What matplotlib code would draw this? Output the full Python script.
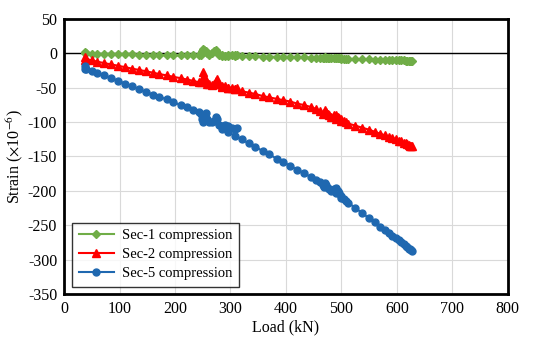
import matplotlib
matplotlib.use("Agg")
import matplotlib.pyplot as plt

# ---- data ----
load = [37, 37, 40, 50, 60, 72, 85, 98, 110, 122, 135, 148, 160, 172, 185, 197, 210, 222, 233, 243,
        246, 248, 250, 252, 255, 258, 262, 266, 270, 273, 276, 280, 285, 290, 296, 302, 308, 312,
        285, 295, 308, 320, 333, 345, 358, 370, 383, 395, 408, 420, 432, 445, 455, 462,
        466, 468, 470, 472, 475, 478, 482, 486, 490, 493, 496, 500, 504, 508,
        490, 500, 512, 525, 537, 550, 560, 570, 578, 585, 592, 598, 603, 608, 612, 616, 619, 622, 624, 626, 627]

sec1 = [0, 2, 0, -0.5, -0.5, -1, -1, -1, -1.5, -1.5, -2, -2, -2, -2.5, -2.5, -3, -3, -3, -3, -3,
        -2, 3, 7, 5, 3, 1, -2, 0, 3, 5, 2, -2, -4, -4, -3, -3, -3, -3,
        -3, -3.5, -3.5, -4, -4, -4, -4.5, -4.5, -5, -5, -5, -5.5, -5.5, -6, -6, -6,
        -6, -6, -5, -6, -6.5, -7, -7, -6.5, -6.5, -7, -7, -7, -7.5, -7.5,
        -7, -7.5, -8, -8, -8.5, -8.5, -9, -9, -9.5, -9.5, -9.5, -10, -10, -10, -10, -10.5, -10.5, -10.5, -10.5, -10.5, -10.5]

sec2 = [-10, -5, -8, -10, -12, -14, -16, -18, -20, -22, -24, -26, -28, -30, -32, -34, -36, -38, -40, -42,
        -42, -38, -27, -33, -40, -45, -44, -46, -45, -40, -37, -44, -48, -48, -50, -50, -52, -51,
        -49, -50, -52, -55, -57, -59, -62, -64, -66, -68, -70, -73, -75, -78, -81, -84,
        -88, -86, -82, -85, -88, -90, -92, -90, -89, -92, -94, -96, -98, -100,
        -96, -99, -102, -105, -108, -111, -114, -117, -119, -121, -123, -125, -127, -128, -130, -131, -132, -133, -134, -135, -135]

sec5 = [-22, -18, -22, -25, -28, -32, -36, -40, -44, -48, -52, -56, -60, -63, -67, -71, -75, -78, -82, -85,
        -88, -95, -100, -92, -86, -95, -100, -100, -98, -92, -96, -104, -106, -104, -105, -108, -110, -108,
        -110, -114, -120, -125, -131, -136, -142, -147, -153, -158, -164, -169, -174, -180, -184, -187,
        -192, -195, -188, -192, -196, -198, -200, -198, -196, -200, -203, -208, -212, -215,
        -203, -210, -217, -225, -232, -240, -246, -252, -257, -261, -265, -269, -272, -275, -278, -280, -282, -284, -285, -286, -287]

labels = ["Sec-1 compression", "Sec-2 compression", "Sec-5 compression"]
xticks = list(range(0, 801, 100))
yticks = list(range(-350, 51, 50))

plt.rcParams['font.family'] = ['Liberation Serif', 'DejaVu Serif']
plt.rcParams['mathtext.fontset'] = 'stix'
plt.rcParams['axes.unicode_minus'] = False

fig = plt.figure(figsize=(5.34, 3.47), dpi=100)
ax = fig.add_axes([0.12, 0.153, 0.831, 0.792])

ax.plot(load, sec1, color='#70AD47', marker='D', markersize=4, linewidth=1.5, label=labels[0], zorder=3)
ax.plot(load, sec2, color='#FF0000', marker='^', markersize=5.5, linewidth=1.5, label=labels[1], zorder=3)
ax.plot(load, sec5, color='#1F68B0', marker='o', markersize=5, linewidth=1.5, label=labels[2], zorder=3)

ax.axhline(0, color='black', linewidth=1, zorder=2)

ax.set_xlim(0, 800)
ax.set_ylim(-350, 50)
ax.set_xticks(xticks)
ax.set_yticks(yticks)
ax.grid(True, color='#D9D9D9', linewidth=0.8)
ax.set_axisbelow(True)
ax.tick_params(length=0, labelsize=11.5, pad=5)
for s in ax.spines.values():
    s.set_linewidth(2)
    s.set_color('black')

ax.set_xlabel('Load (kN)', fontsize=11.5, labelpad=2)
ax.set_ylabel(r'Strain ($\times$10$^{-6}$)', fontsize=11.5, labelpad=2)

leg = ax.legend(loc='lower left', bbox_to_anchor=(0.018, 0.025), borderaxespad=0,
                fontsize=10.5, frameon=True, fancybox=False, handlelength=2.4,
                labelspacing=0.4, borderpad=0.45, handletextpad=0.6)
leg.get_frame().set_edgecolor('black')
leg.get_frame().set_linewidth(1)

fig.savefig('out.png', dpi=100)
